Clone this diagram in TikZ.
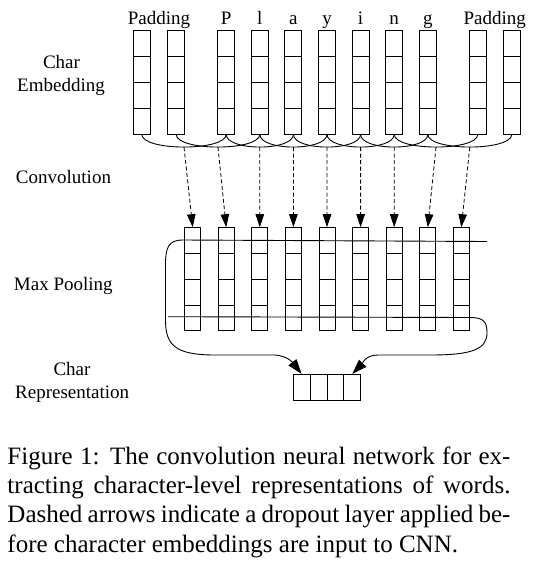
\documentclass[tikz,border=0pt]{standalone}
\usepackage{fontspec}
\setmainfont{Liberation Serif}
\usetikzlibrary{arrows.meta}
\begin{document}
\begin{tikzpicture}[x=1pt,y=-1pt,
  topcol/.style={draw, line width=0.9pt, minimum width=17pt, minimum height=104pt, inner sep=0pt, outer sep=0pt},
  botcol/.style={draw, line width=0.9pt, minimum width=16pt, minimum height=103pt, inner sep=0pt, outer sep=0pt},
  repcell/.style={draw, line width=0.9pt, minimum width=16.85pt, minimum height=26pt, inner sep=0pt, outer sep=0pt},
  cellline/.style={line width=0.9pt},
  conv/.style={line width=0.9pt},
  droparrow/.style={line width=0.8pt, dash pattern=on 4pt off 2.5pt, -{Triangle[length=13pt,width=8.5pt]}},
  pool/.style={line width=0.9pt, -{Triangle[length=15pt,width=10pt]}},
  lbl/.style={anchor=base, inner sep=0pt, font=\fontsize{19}{23}\selectfont},
  side/.style={anchor=base, inner sep=0pt, font=\fontsize{19}{23}\selectfont}]
\useasboundingbox (0,0) rectangle (547,576);

% top columns (char embeddings)
\foreach \i/\x in {1/141.8,2/176.2,3/226.2,4/259.8,5/293.4,6/327.0,7/360.6,8/394.2,9/427.8,10/477.8,11/511.8} {
  \node[topcol] (t\i) at (\x,82.3) {};
  \foreach \k in {1,2,3}
    \draw[cellline] ([yshift={-26pt*\k}]t\i.north west) -- ([yshift={-26pt*\k}]t\i.north east);
}

% labels above
\node[lbl] (padA) at (159,24) {Padding};
\foreach \i/\c in {3/P,4/l,5/a,6/y,7/i,8/n,9/g}
  \node[lbl] (c\i) at (t\i.center |- 0,24) {\c};
\node[lbl] (padB) at (494.8,24) {Padding};

% convolution windows
\foreach \j in {1,...,9} {
  \pgfmathtruncatemacro{\k}{\j+2}
  \draw[conv] (t\j.south) .. controls +(0,17) and +(0,17) .. node[coordinate,pos=0.5] (m\j) {} (t\k.south);
}

% lower columns (convolution outputs)
\foreach \i/\x in {1/192.7,2/226.2,3/259.8,4/293.4,5/327.0,6/360.6,7/394.2,8/427.8,9/461.3} {
  \node[botcol] (b\i) at (\x,278.7) {};
  \foreach \k in {1,2,3}
    \draw[cellline] ([yshift={-26pt*\k}]b\i.north west) -- ([yshift={-26pt*\k}]b\i.north east);
}

% dropout arrows
\foreach \j in {1,...,9}
  \draw[droparrow] (m\j) -- (b\j.north);

% char representation
\foreach \i/\x in {1/301.7,2/318.55,3/335.4,4/352.25}
  \node[repcell] (r\i) at (\x,387) {};

% max pooling lines
\coordinate (pr) at (487,241.5);
\draw[pool] (pr) -- (183,240) .. controls (168,240) and (165.5,248) .. (165.5,265)
  -- (165.5,320) .. controls (165.5,345) and (175,355) .. (215,355)
  -- (275,355) .. controls (288,356) and (293,363) .. (r1.north);
\coordinate (pl) at (168,316.7);
\draw[pool] (pl) -- (470,317.5) .. controls (484,317.5) and (487,322) .. (487,333)
  .. controls (487,350) and (470,355) .. (430,355)
  -- (378,355) .. controls (365,355) and (362,364) .. (r4.north);

% side labels
\node[side] (ce1) at (61.5,68) {Char};
\node[side] (ce2) at (61,91.7) {Embedding};
\node[side] (cv) at (63.5,183.3) {Convolution};
\node[side] (mp) at (63.3,290) {Max Pooling};
\node[side] (cr1) at (72,375.7) {Char};
\node[side] (cr2) at (72.2,398.3) {Representation};

% caption
\node[anchor=base west, inner sep=0pt] (cap) at (7.3,464.3) {\fontsize{25}{29.3}\selectfont
  \vtop{\hsize=503pt \baselineskip=29.3pt
    \hbox to 503pt{Figure 1: The convolution neural network for ex-}
    \hbox to 503pt{tracting character-level representations of words.}
    \hbox to 503pt{Dashed arrows indicate a dropout layer applied be-}
    \hbox{fore character embeddings are input to CNN.}}};
\end{tikzpicture}
\end{document}
